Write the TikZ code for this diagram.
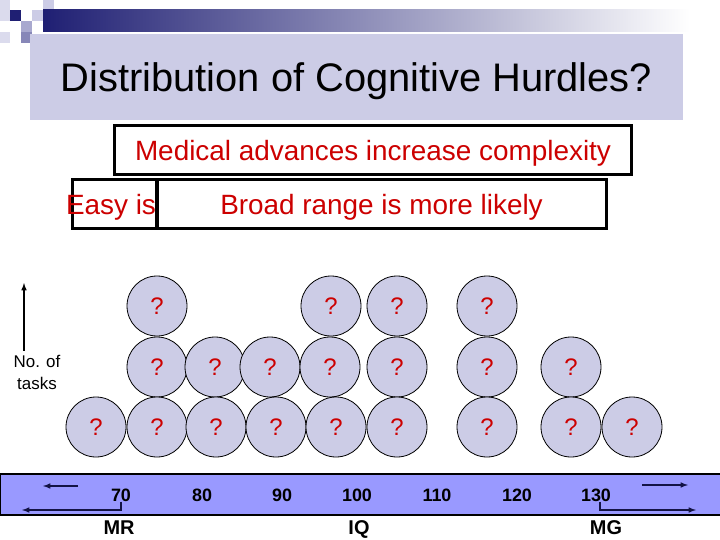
\documentclass[tikz,border=0pt]{standalone}
\usepackage{fontspec}
\setmainfont{Liberation Sans}
\definecolor{navy}{RGB}{31,31,115}
\definecolor{slidelav}{RGB}{204,204,230}
\definecolor{barblue}{RGB}{153,153,255}
\definecolor{hurdlered}{RGB}{204,0,0}
\newcommand{\setsz}[1]{\fontsize{#1}{#1}\selectfont}
\begin{document}
\begin{tikzpicture}[x=1bp,y=-1bp,
    hurdle/.style={circle, draw, line width=0.8bp, fill=slidelav, minimum size=60bp, inner sep=0pt, text=hurdlered, font=\setsz{24}},
    redbox/.style={draw, line width=3bp, text=hurdlered, font=\setsz{28}, minimum height=49bp, inner sep=0pt, text depth=0pt},
    scalelabel/.style={font=\bfseries\setsz{18}, inner sep=0pt},
    endlabel/.style={font=\bfseries\setsz{20}, inner sep=0pt},
    barline/.style={line width=1.5bp, navy!60!black, -latex}]
    \useasboundingbox (0,0) rectangle (720,540);
    % slide decoration
    \fill[slidelav!70] (0,0) rectangle (10,10);
    \fill[slidelav!70] (0,10) rectangle (10,21);
    \fill[navy] (10,10) rectangle (21,21);
    \fill[slidelav] (32,10) rectangle (43,21);
    \fill[slidelav] (43,0) rectangle (54,10);
    \fill[slidelav!80!navy] (21,21) rectangle (32,32);
    \fill[slidelav!70] (0,32) rectangle (10,43);
    \fill[slidelav!60!navy] (21,32) rectangle (32,43);
    \shade[left color=navy, right color=white] (43,10) rectangle (690,32);
    % title
    \node[fill=slidelav, minimum width=653bp, minimum height=86bp, text depth=0pt, font=\setsz{40}] (title) at (356.5,77) {Distribution of Cognitive Hurdles?};
    % statements
    \node[redbox, minimum width=516bp] (medical) at (373,150.5) {Medical advances increase complexity};
    \node[redbox, minimum width=449bp] (broad) at (381.5,204.5) {Broad range is more likely};
    \draw[line width=3bp] (72,180) rectangle (157,229);
    \node[text=hurdlered, font=\setsz{28}, inner sep=0pt, text depth=0pt] (easy) at (111,204.5) {Easy is};
    % hurdles
    \foreach \cx in {157,331,397,487}
        \node[hurdle] (top\cx) at (\cx,306) {?};
    \foreach \cx in {157,215,270,330,397,487,571}
        \node[hurdle] (mid\cx) at (\cx,367) {?};
    \foreach \cx in {96,157,216,276,336,397,487,571,632}
        \node[hurdle] (low\cx) at (\cx,427) {?};
    % y axis
    \node[align=center, font=\fontsize{17}{22}\selectfont, inner sep=0pt] (tasks) at (37,372) {No. of\\tasks};
    \coordinate (tasktop) at (24,283);
    \draw[line width=1.5bp, -latex] (tasks.north -| tasktop) ++(0,-4) -- (tasktop);
    % IQ scale
    \draw[fill=barblue, line width=1.2bp] (0,474) rectangle (722,515);
    \foreach \v/\cx in {70/121,80/202,90/282,100/357,110/437,120/517,130/596}
        \node[scalelabel] (n\v) at (\cx,495) {\v};
    \node[endlabel] (mr) at (119,528) {MR};
    \node[endlabel] (iq) at (359,529) {IQ};
    \node[endlabel] (mg) at (606,528) {MG};
    \coordinate (mrend) at (22,510);
    \coordinate (mgend) at (696,510);
    \draw[barline] (n70.south) |- (mrend);
    \draw[barline] ([xshift=4bp]n130.south) |- (mgend);
    \coordinate (lefta) at (78,486);
    \coordinate (leftb) at (43,486);
    \coordinate (righta) at (642,485);
    \coordinate (rightb) at (688,485);
    \draw[barline] (lefta) -- (leftb);
    \draw[barline] (righta) -- (rightb);
\end{tikzpicture}
\end{document}
